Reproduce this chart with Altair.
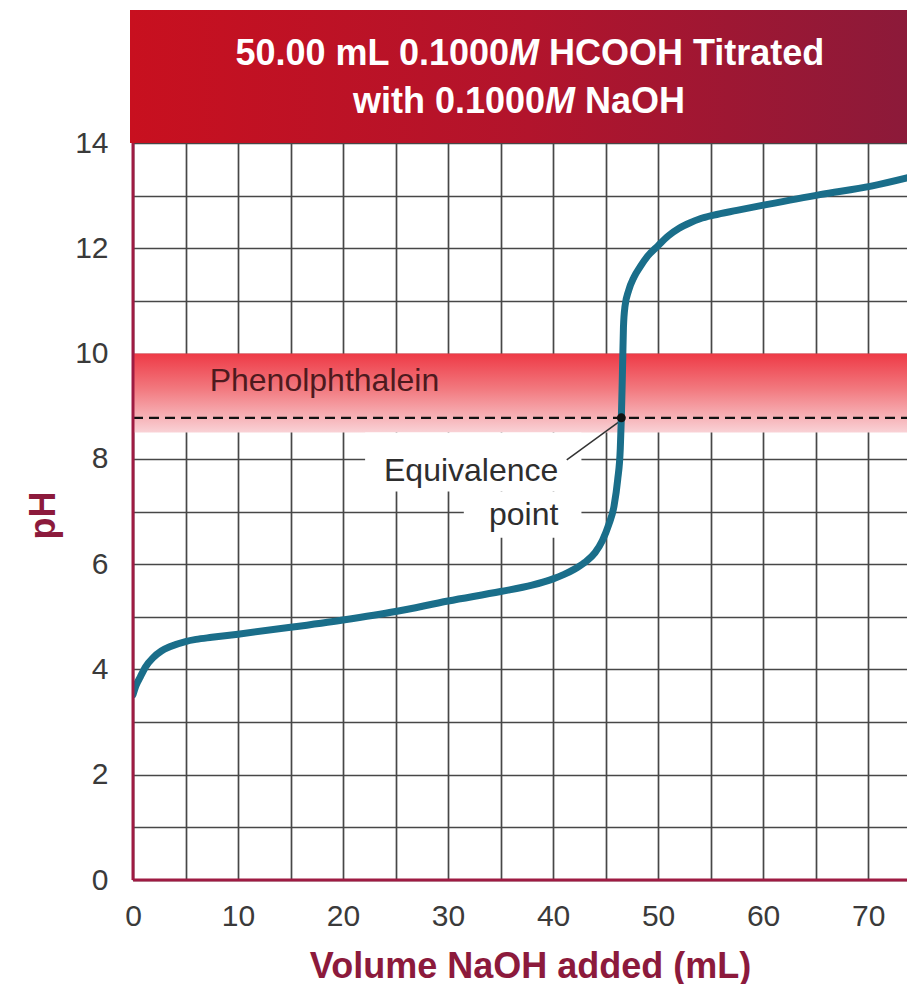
import altair as alt
import pandas as pd

# ---------------- data ----------------
volume_ml = [0, 0.3, 0.7, 1.2, 1.9, 2.7, 3.5, 5, 6, 7.5,
             10, 15, 20, 25, 30, 35, 38, 40, 41, 42,
             43, 44, 44.7, 45.3, 45.8, 46.15, 46.4, 46.5, 46.6, 46.7,
             46.85, 47.2, 47.7, 48.3, 49, 50, 51, 52, 53, 54,
             55.3, 57.5, 60.3, 65.4, 70.3, 74.4]
ph_values = [3.52, 3.7, 3.86, 4.05, 4.22, 4.35, 4.43, 4.53, 4.57, 4.61,
             4.67, 4.8, 4.94, 5.1, 5.3, 5.48, 5.6, 5.72, 5.8, 5.9,
             6.03, 6.22, 6.45, 6.75, 7.1, 7.6, 8.2, 8.78, 9.6, 10.5,
             10.9, 11.2, 11.45, 11.65, 11.85, 12.05, 12.24, 12.38, 12.48, 12.56,
             12.63, 12.72, 12.83, 13.02, 13.18, 13.37]

x_ticks = list(range(0, 75, 5))
y_ticks = list(range(0, 15, 1))

indicator_name = ["Phenolphthalein"]
indicator_low = [8.5]
indicator_high = [10.0]

equiv_volume = [46.5]
equiv_ph = [8.78]

title_line1 = ["50.00 mL 0.1000", "M", "HCOOH Titrated"]
title_line2 = ["with 0.1000", "M", "NaOH"]
equiv_label = ["Equivalence", "point"]
x_title = "Volume NaOH added (mL)"
y_title = "pH"

# ---------------- styling ----------------
W, H = 774, 737
XMAX = 73.7
FONT = "Liberation Sans"
TICKFONT = "Liberation Sans"
CRIMSON = "#8c1a3c"
AXISRED = "#9e1b42"
GRID = "#474747"
CURVE = "#1a6e8a"

x_scale = alt.Scale(domain=[0, XMAX], nice=False, zero=False)
y_scale = alt.Scale(domain=[0, 14], nice=False, zero=False)

x_axis = alt.Axis(values=x_ticks, labelExpr="datum.value % 10 == 0 ? datum.label : ''",
                  grid=True, gridColor=GRID, gridWidth=1.7, gridOpacity=1,
                  ticks=False, domain=False, labelFlush=False, labelOverlap=False,
                  labelFont=TICKFONT, labelFontSize=30, labelColor="#3a3a3a", labelPadding=21,
                  title=x_title, titleFont=FONT, titleFontSize=36, titleFontWeight="bold",
                  titleColor=CRIMSON, titleX=397, titleY=97, titleBaseline="alphabetic",
                  titleAlign="center")
y_axis = alt.Axis(values=y_ticks, labelExpr="datum.value % 2 == 0 ? datum.label : ''",
                  grid=True, gridColor=GRID, gridWidth=1.7, gridOpacity=1,
                  ticks=False, domain=False, labelOverlap=False,
                  labelFont=TICKFONT, labelFontSize=30, labelColor="#3a3a3a", labelPadding=25,
                  labelBaseline="middle",
                  title=y_title, titleFont=FONT, titleFontSize=36, titleFontWeight="bold",
                  titleColor=CRIMSON, titleX=-90, titleY=372, titleAngle=270,
                  titleAlign="center", titleBaseline="middle")


def X(field):
    return alt.X(field, type="quantitative", scale=x_scale, axis=x_axis)


def Y(field):
    return alt.Y(field, type="quantitative", scale=y_scale, axis=y_axis)


curve_df = pd.DataFrame({"volume": volume_ml, "ph": ph_values})
one = pd.DataFrame({"k": [0]})

band_df = pd.DataFrame({"name": indicator_name, "lo": indicator_low, "hi": indicator_high,
                        "x0": [0], "x1": [XMAX], "tx": [7.3], "ty": [9.28]})
band = alt.Chart(band_df).mark_rect(
    color=alt.Gradient(gradient="linear", x1=0, x2=0, y1=0, y2=1,
                       stops=[alt.GradientStop(color="#ee3a46", offset=0),
                              alt.GradientStop(color="#f2797f", offset=0.45),
                              alt.GradientStop(color="#f9d2d6", offset=1)])
).encode(x=X("x0"), x2="x1", y=Y("hi"), y2="lo")

band_text = alt.Chart(band_df).mark_text(
    align="left", baseline="alphabetic", font=FONT, fontSize=32, color="#4e1a1e"
).encode(x=X("tx"), y=Y("ty"), text="name:N")

# white boxes behind the equivalence label
box_df = pd.DataFrame({"x0": [22.1, 31.5], "x1": [42.7, 42.7],
                       "y0": [7.38, 6.5], "y1": [8.5, 7.38]})
boxes = alt.Chart(box_df).mark_rect(color="white").encode(
    x=X("x0"), x2="x1", y=Y("y0"), y2="y1")

eq_df = pd.DataFrame({"v": equiv_volume, "p": equiv_ph, "x0": [0], "x1": [XMAX]})
dashed = alt.Chart(eq_df).mark_rule(color="#111111", strokeWidth=2.2, strokeDash=[10, 6]).encode(
    x=X("x0"), x2="x1", y=Y("p"))

leader_df = pd.DataFrame({"x0": [41.3], "y0": [7.98], "x1": [46.4], "y1": [8.72]})
leader = alt.Chart(leader_df).mark_rule(color="#333333", strokeWidth=1.5).encode(
    x=X("x0"), y=Y("y0"), x2="x1", y2="y1")

curve = alt.Chart(curve_df).mark_line(color=CURVE, strokeWidth=7, interpolate="monotone",
                                      clip=True, strokeCap="round").encode(
    x=X("volume"), y=Y("ph"))

eq_point = alt.Chart(eq_df).mark_circle(color="#111111", size=80, opacity=1).encode(
    x=X("v"), y=Y("p"))

eqlab_df = pd.DataFrame({"t": equiv_label, "tx": [40.5, 40.5], "ty": [7.57, 6.75]})
eq_text = alt.Chart(eqlab_df).mark_text(align="right", baseline="alphabetic", font=FONT,
                                        fontSize=32, color="#2e2e2e").encode(
    x=X("tx"), y=Y("ty"), text="t:N")

axl_df = pd.DataFrame({"x0": [0], "y0": [0], "y1": [14]})
axis_left = alt.Chart(axl_df).mark_rule(color=AXISRED, strokeWidth=3).encode(
    x=X("x0"), y=Y("y0"), y2="y1")
axb_df = pd.DataFrame({"x0": [0], "x1": [XMAX], "y0": [0]})
axis_bottom = alt.Chart(axb_df).mark_rule(color=AXISRED, strokeWidth=3).encode(
    x=X("x0"), x2="x1", y=Y("y0"))

# title banner above the plot
banner = alt.Chart(one).mark_rect(
    color=alt.Gradient(gradient="linear", x1=0, x2=1, y1=0, y2=0,
                       stops=[alt.GradientStop(color="#c8101f", offset=0),
                              alt.GradientStop(color="#b2142c", offset=0.5),
                              alt.GradientStop(color="#8a1a3a", offset=1)])
).encode(x=alt.value(-3), x2=alt.value(W + 20), y=alt.value(-133), y2=alt.value(0))


def tpart(text, px, py, align, italic):
    kw = dict(align=align, baseline="alphabetic", font=FONT, fontSize=36,
              fontWeight="bold", color="white")
    if italic:
        kw["fontStyle"] = "italic"
    return alt.Chart(one).mark_text(**kw).encode(
        x=alt.value(px), y=alt.value(py), text=alt.value(text))


t1 = [tpart(title_line1[0], 376, -78, "right", False),
      tpart(title_line1[1], 376, -78, "left", True),
      tpart(title_line1[2], 416, -78, "left", False)]
t2 = [tpart(title_line2[0], 412, -30, "right", False),
      tpart(title_line2[1], 412, -30, "left", True),
      tpart(title_line2[2], 452, -30, "left", False)]

chart = alt.layer(
    band, band_text, boxes, dashed, leader, curve, eq_point, eq_text,
    axis_left, axis_bottom, banner, *t1, *t2
).properties(
    width=W, height=H,
    autosize=alt.AutoSizeParams(type="none"),
    padding={"left": 125, "top": 135, "right": 0, "bottom": 104},
    background="white",
).configure_view(stroke=None)

chart.save("out.html", embed_options={"renderer": "svg", "actions": False})
